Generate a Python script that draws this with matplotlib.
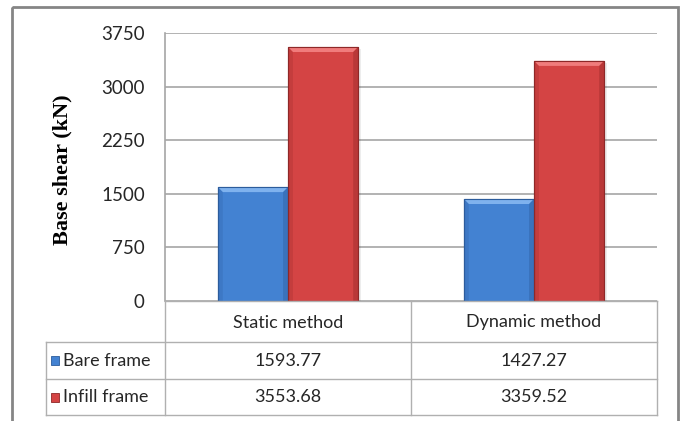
import matplotlib.pyplot as plt
from matplotlib.patches import Rectangle, Polygon
import numpy as np

# data
methods = ["Static method", "Dynamic method"]
series_names = ["Bare frame", "Infill frame"]
bare_frame = [1593.77, 1427.27]
infill_frame = [3553.68, 3359.52]
y_ticks = [0, 750, 1500, 2250, 3000, 3750]

face_cols = ["#4382D2", "#D44444"]
edge_cols = ["#2C5C9C", "#8E2828"]
light_cols = ["#7FB2EE", "#F07C7C"]
dark_cols = ["#3468AE", "#A83030"]
grid_col = "#A6A6A6"
line_col = "#B0B0B0"
text_col = "#262626"
sans = "Lato"

W, H = 681, 421
fig = plt.figure(figsize=(W / 100, H / 100), dpi=100)

# plot area in pixels
px_l, px_r, px_t, px_b = 165, 657, 33, 301
ax = fig.add_axes([px_l / W, 1 - px_b / H, (px_r - px_l) / W, (px_b - px_t) / H])
ax.set_xlim(0, len(methods))
ax.set_ylim(0, 3750)
ax.set_yticks(y_ticks)
ax.set_yticklabels([str(t) for t in y_ticks], fontfamily=sans, fontsize=13.5, color=text_col)
ax.set_xticks([])
ax.tick_params(axis="y", length=0, pad=14.5)
for s in ["top", "right", "bottom"]:
    ax.spines[s].set_visible(False)
ax.spines["left"].set_color(grid_col)
ax.spines["left"].set_linewidth(1.2)
ax.yaxis.grid(True, color=grid_col, linewidth=1.2)
ax.set_axisbelow(True)
ax.set_ylabel("Base shear (kN)", fontfamily="Liberation Serif", fontweight="bold",
              fontsize=16)
ax.yaxis.set_label_coords((72 - px_l) / (px_r - px_l), 0.49)

bar_w = 0.285
x = np.arange(len(methods)) + 0.5
bev_x = 0.02
bev_y = 70
for i, vals in enumerate([bare_frame, infill_frame]):
    lefts = x - bar_w + i * bar_w
    ax.bar(lefts, vals, width=bar_w, align="edge", color=face_cols[i],
           edgecolor=edge_cols[i], linewidth=0.8, zorder=3)
    for xl, v in zip(lefts, vals):
        # soft shadow on the right side
        ax.add_patch(Rectangle((xl + bar_w, 0), 0.01, v - 30, color="#000000",
                               alpha=0.07, linewidth=0, zorder=2))
        # bevel: light top, darker sides
        ax.add_patch(Polygon([(xl, v), (xl + bar_w, v), (xl + bar_w - bev_x, v - bev_y),
                              (xl + bev_x, v - bev_y)], closed=True, color=light_cols[i],
                             linewidth=0, zorder=4))
        ax.add_patch(Polygon([(xl, 0), (xl, v), (xl + bev_x, v - bev_y), (xl + bev_x, 0)],
                             closed=True, color=dark_cols[i], alpha=0.35, linewidth=0, zorder=4))
        ax.add_patch(Polygon([(xl + bar_w, 0), (xl + bar_w, v), (xl + bar_w - bev_x, v - bev_y),
                              (xl + bar_w - bev_x, 0)], closed=True, color=dark_cols[i],
                             alpha=0.6, linewidth=0, zorder=4))
        ax.add_patch(Rectangle((xl, v), bar_w, -v, fill=False, edgecolor=edge_cols[i],
                               linewidth=0.8, zorder=5))

# data table under the chart, in pixel coordinates
tab = fig.add_axes([0, 0, 1, 1])
tab.set_xlim(0, W)
tab.set_ylim(H, 0)
tab.axis("off")

col_x = [px_l, 411, px_r]
row_y = [px_b, 342, 379, 415]
leg_l = 46

tab.plot([px_l, px_r], [row_y[0], row_y[0]], color=line_col, lw=1)
for y in row_y[1:]:
    tab.plot([leg_l, px_r], [y, y], color=line_col, lw=1)
for cx in col_x:
    tab.plot([cx, cx], [row_y[0], row_y[-1]], color=line_col, lw=1)
tab.plot([leg_l, leg_l], [row_y[1], row_y[-1]], color=line_col, lw=1)

for j, m in enumerate(methods):
    cx = (col_x[j] + col_x[j + 1]) / 2
    tab.text(cx, (row_y[0] + row_y[1]) / 2 + 1, m, ha="center", va="center",
             fontfamily=sans, fontsize=13, color=text_col)

for i, (name, vals) in enumerate(zip(series_names, [bare_frame, infill_frame])):
    cy = (row_y[i + 1] + row_y[i + 2]) / 2
    tab.add_patch(Rectangle((51, cy - 4.5), 8, 9, facecolor=face_cols[i],
                            edgecolor=edge_cols[i], lw=0.6))
    tab.text(63, cy, name, ha="left", va="center", fontfamily=sans, fontsize=13,
             color=text_col)
    for j, v in enumerate(vals):
        cx = (col_x[j] + col_x[j + 1]) / 2
        tab.text(cx, cy, f"{v:.2f}", ha="center", va="center", fontfamily=sans,
                 fontsize=13, color=text_col)

# outer chart border
tab.add_patch(Rectangle((12, 7), 666, 430, fill=False, edgecolor="#858585", lw=2,
                        clip_on=False))

fig.savefig("out.png", dpi=100)
